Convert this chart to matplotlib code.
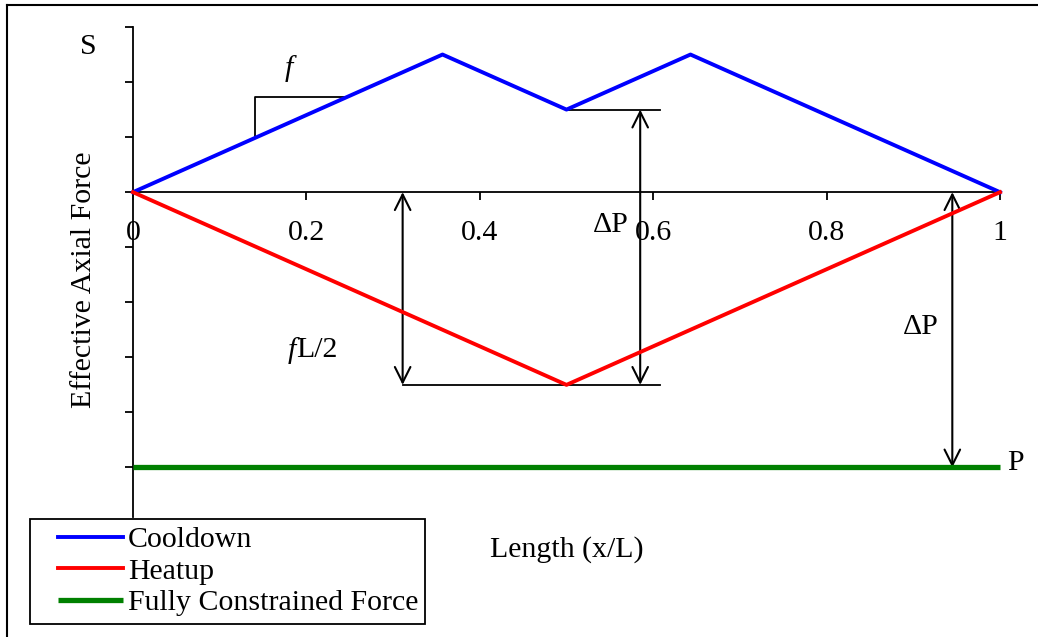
import matplotlib
matplotlib.use('Agg')
import matplotlib.pyplot as plt
import numpy as np
from matplotlib.lines import Line2D
from matplotlib.legend_handler import HandlerLine2D

# effective axial force along the pipe, x/L from 0 to 1
cooldown_x = [0.0, 0.357, 0.5, 0.643, 1.0]
cooldown_y = [0.0, 2.5, 1.5, 2.5, 0.0]
heatup_x = [0.0, 0.5, 1.0]
heatup_y = [0.0, -3.5, 0.0]
constrained_x = [0.0, 1.0]
constrained_y = [-5.0, -5.0]

x_ticks = [0, 0.2, 0.4, 0.6, 0.8, 1]
x_tick_labels = ['0', '0.2', '0.4', '0.6', '0.8', '1']
y_ticks = [-5, -4, -3, -2, -1, 0, 1, 2, 3]

FS = 21.5
plt.rcParams['font.family'] = ['Liberation Serif', 'DejaVu Serif']
plt.rcParams['font.size'] = FS

W, H = 1038, 637
fig = plt.figure(figsize=(W / 100, H / 100), dpi=100)
ax = fig.add_axes([133 / W, 1 - 517 / H, 867 / W, 490 / H])
ax.set_xlim(0, 1)
ax.set_ylim(-5.9, 3.0)

# axes: x axis runs through zero, y axis on the left
for side in ['top', 'right']:
    ax.spines[side].set_visible(False)
ax.spines['bottom'].set_position(('data', 0))
for side in ['bottom', 'left']:
    ax.spines[side].set_linewidth(1.3)
ax.set_xticks(x_ticks)
ax.set_xticklabels(x_tick_labels)
ax.set_yticks(y_ticks)
ax.set_yticklabels([])
ax.tick_params(axis='x', direction='out', length=6, width=1.3, pad=14, labelsize=FS)
ax.tick_params(axis='y', direction='out', length=6, width=1.3)

ax.plot(cooldown_x, cooldown_y, color='#0000ff', lw=2.8, label='Cooldown', clip_on=False, zorder=4)
ax.plot(heatup_x, heatup_y, color='#ff0000', lw=2.8, label='Heatup', clip_on=False, zorder=4)
ax.plot(constrained_x, constrained_y, color='#008000', lw=3.8, label='Fully Constrained Force',
        clip_on=False, solid_capstyle='butt', zorder=4)

# slope triangle on the rising cooldown branch
tri_x0 = 0.1407
tri_top = 1.73
slope = cooldown_y[1] / cooldown_x[1]
ax.plot([tri_x0, tri_x0, tri_top / slope], [slope * tri_x0, tri_top, tri_top], color='black', lw=1.3, zorder=3)
ax.text(0.18, 2.25, 'f', fontstyle='italic', ha='center', va='center')

arrow_kw = dict(arrowstyle='<->', color='black', lw=1.5, mutation_scale=28, shrinkA=0, shrinkB=0)

# force drop from heatup minimum to cooldown valley
dip_x = 0.585
ax.plot([cooldown_x[2], 0.608], [cooldown_y[2], cooldown_y[2]], color='black', lw=1.3, zorder=3)
ax.plot([0.311, 0.608], [heatup_y[1], heatup_y[1]], color='black', lw=1.3, zorder=3)
ax.annotate('', xy=(dip_x, cooldown_y[2]), xytext=(dip_x, heatup_y[1]), arrowprops=arrow_kw)
ax.text(0.551, -0.6, 'ΔP', ha='center', va='center')

# half-length friction force
ax.annotate('', xy=(0.311, 0), xytext=(0.311, heatup_y[1]), arrowprops=arrow_kw)
ax.text(0.188, -2.87, 'f', fontstyle='italic', ha='right', va='center')
ax.text(0.188, -2.87, 'L/2', ha='left', va='center')

# full pressure force at the pipe end
ax.annotate('', xy=(0.945, 0), xytext=(0.945, constrained_y[0]), arrowprops=arrow_kw)
ax.text(0.909, -2.45, 'ΔP', ha='center', va='center')
ax.text(1.018, -4.92, 'P', ha='center', va='center', clip_on=False)
ax.text(-0.052, 2.63, 'S', ha='center', va='center', clip_on=False)

ax.set_ylabel('Effective Axial Force', fontsize=FS)
ax.yaxis.set_label_coords(-0.041, 0.484)
fig.text(567 / W, 1 - 550 / H, 'Length (x/L)', ha='center', va='center', fontsize=FS)

leg = ax.legend(loc='upper left', bbox_to_anchor=(30 / W, 1 - 519 / H), bbox_transform=fig.transFigure,
                fontsize=FS, frameon=True, fancybox=False, framealpha=1, edgecolor='black',
                borderpad=0.25, handlelength=2.85, handletextpad=0.17, labelspacing=0.15,
                borderaxespad=0, handler_map={Line2D: HandlerLine2D(xpad=0.7)})
leg.get_frame().set_linewidth(1.3)

# outer frame (top and left edges only)
fig.add_artist(Line2D([7 / W, 1], [1 - 5 / H, 1 - 5 / H], transform=fig.transFigure, color='black', lw=1.5))
fig.add_artist(Line2D([7 / W, 7 / W], [0, 1 - 5 / H], transform=fig.transFigure, color='black', lw=1.5))

fig.savefig('out.png', dpi=100)
